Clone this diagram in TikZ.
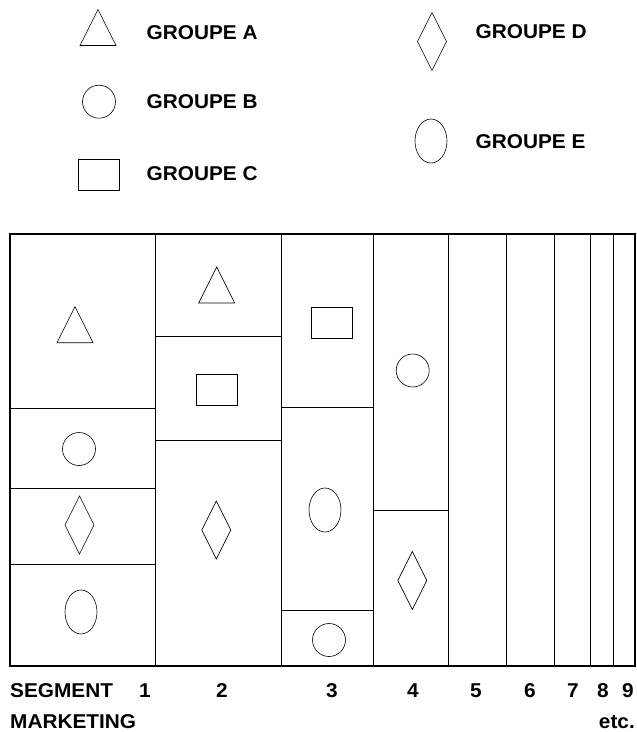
\documentclass[tikz,border=0pt]{standalone}
\usepackage{fontspec}
\setmainfont{Liberation Sans}[FakeStretch=1.04]
\begin{document}
\begin{tikzpicture}[x=1pt,y=-1pt,
  shp/.style={line width=0.6pt},
  grid/.style={line width=0.8pt},
  lbl/.style={font=\fontsize{20}{24}\selectfont\bfseries, inner sep=0pt},
  tri/.pic={\draw[shp] (-18,18) -- (0,-18) -- (18,18) -- cycle;},
  dia/.pic={\draw[shp] (0,-29) -- (14.5,0) -- (0,29) -- (-14.5,0) -- cycle;},
  ell/.pic={\draw[shp] (0,0) ellipse (16pt and 22pt);},
  circ/.pic={\draw[shp] (0,0) circle (16.5pt);},
  rec/.pic={\draw[shp] (-20.5,-15.5) rectangle (20.5,15.5);}]
\useasboundingbox (0,0) rectangle (637,732);
% legend
\pic at (98,27.5) {tri};
\pic at (99,101.7) {circ};
\pic at (99,175) {rec};
\pic at (432,41.5) {dia};
\pic at (431,141) {ell};
\node[lbl,anchor=base west] (ga) at (146.5,39) {GROUPE A};
\node[lbl,anchor=base west] (gb) at (146.5,108) {GROUPE B};
\node[lbl,anchor=base west] (gc) at (146.5,180.5) {GROUPE C};
\node[lbl,anchor=base west] (gd) at (475.5,38) {GROUPE D};
\node[lbl,anchor=base west] (ge) at (475.5,148) {GROUPE E};
% grid
\foreach \x in {155,281,373,448,506,554,590,613} \draw[grid] (\x,234) -- (\x,666);
\draw[grid] (10,408) -- (155,408);
\draw[grid] (10,488) -- (155,488);
\draw[grid] (10,564) -- (155,564);
\draw[grid] (155,336) -- (281,336);
\draw[grid] (155,440) -- (281,440);
\draw[grid] (281,407) -- (373,407);
\draw[grid] (281,610) -- (373,610);
\draw[grid] (373,510) -- (448,510);
\draw[line width=1.6pt] (10,234) rectangle (635,666);
% shapes in columns
\pic at (75,324.7) {tri};
\pic at (79,449) {circ};
\pic at (79.5,525) {dia};
\pic at (81,612) {ell};
\pic at (216.7,285) {tri};
\pic at (217,390) {rec};
\pic at (216.3,530) {dia};
\pic at (332,323) {rec};
\pic at (325,510) {ell};
\pic at (329,640) {circ};
\pic at (412.7,370.5) {circ};
\pic at (412.3,580.5) {dia};
% bottom labels
\node[lbl,anchor=base west] (seg) at (10,697) {SEGMENT};
\node[lbl,anchor=base west] (mkt) at (10,728) {MARKETING};
\node[lbl,anchor=base east] (etc) at (635,728) {etc.};
\foreach \n/\x in {1/145,2/222,3/332,4/413,5/476,6/530,7/573,8/603,9/628}
  \node[lbl,anchor=base] (n\n) at (\x,697) {\n};
\end{tikzpicture}
\end{document}
